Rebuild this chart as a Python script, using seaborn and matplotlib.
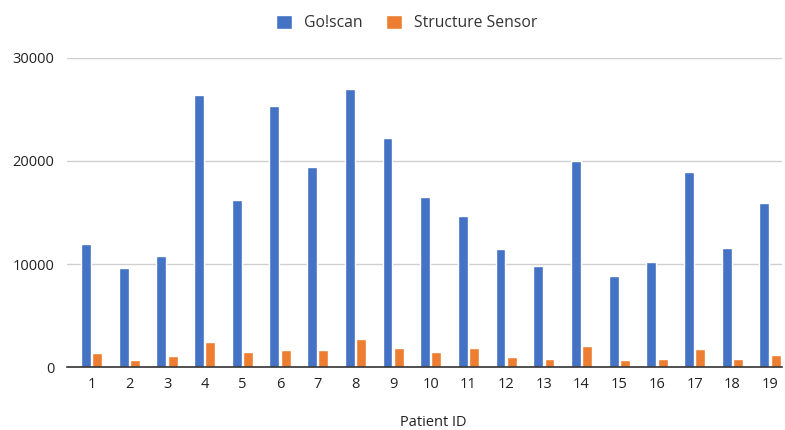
import matplotlib
matplotlib.use("Agg")
import matplotlib.pyplot as plt
import seaborn as sns
import pandas as pd

patients = [str(i) for i in range(1, 20)]
goscan = [11900, 9580, 10770, 26360, 16170, 25300, 19390, 27000, 22230, 16550,
          14650, 11420, 9840, 20000, 8870, 10220, 18940, 11580, 15880]
structure = [1390, 710, 1100, 2450, 1520, 1650, 1650, 2710, 1900, 1520,
             1900, 970, 840, 2030, 710, 840, 1770, 840, 1230]
series_names = ["Go!scan", "Structure Sensor"]
yticks = [0, 10000, 20000, 30000]

df = pd.DataFrame({
    "Patient ID": patients * 2,
    "value": goscan + structure,
    "series": [series_names[0]] * len(patients) + [series_names[1]] * len(patients),
})

sns.set_theme(style="white")
plt.rcParams["font.family"] = ["Open Sans", "DejaVu Sans"]

fig = plt.figure(figsize=(7.85, 4.30), dpi=100)
ax = fig.add_axes([67 / 785, 1 - 367.3 / 430, 715 / 785, (367.3 - 57.7) / 430])

sns.barplot(data=df, x="Patient ID", y="value", hue="series", order=patients,
            hue_order=series_names, palette=["#4472C4", "#ED7D31"],
            width=0.6, gap=0.12, saturation=1, ax=ax, legend=True)

ax.set_ylim(0, 30000)
ax.set_xlim(-0.655, 18.32)
ax.set_yticks(yticks)
ax.set_yticklabels([str(t) for t in yticks])
ax.yaxis.grid(True, color="#d0d0d0", linewidth=1)
ax.set_axisbelow(True)
for s in ["left", "right", "top"]:
    ax.spines[s].set_visible(False)
ax.spines["bottom"].set_color("#333333")
ax.spines["bottom"].set_linewidth(1.2)
ax.tick_params(axis="both", length=0, labelsize=10.5, colors="#222222")
ax.tick_params(axis="y", pad=9)
ax.tick_params(axis="x", pad=7)
ax.set_ylabel("")
ax.set_xlabel("")
fig.text(433 / 785, 1 - 423 / 430, "Patient ID", fontsize=10.5, color="#222222",
         ha="center", va="center")

handles, labels = ax.get_legend_handles_labels()
ax.legend_.remove()
fig.legend(handles, labels, loc="center", bbox_to_anchor=(407 / 785, 1 - 23 / 430),
           ncol=2, frameon=False, fontsize=11.3, handlelength=1.0, handleheight=1.0,
           columnspacing=1.5, handletextpad=0.77, labelcolor="#333333")

fig.savefig("out.png", dpi=100)
